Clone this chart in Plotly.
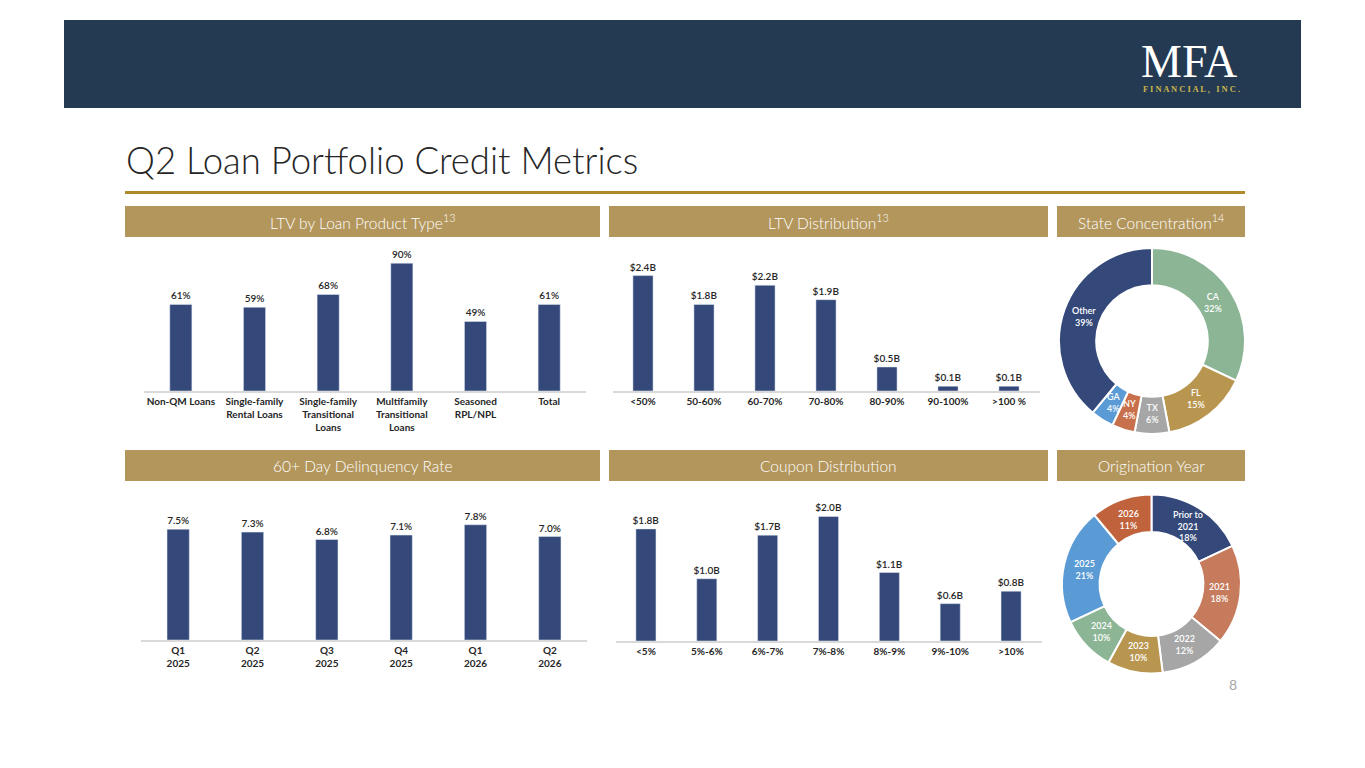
"""Q2 loan portfolio credit metrics slide, rebuilt in Plotly."""
import math

import plotly.graph_objects as go

W, H = 1365, 768

# --- data -------------------------------------------------------------------
product_types = ["Non-QM Loans", "Single-family<br>Rental Loans", "Single-family<br>Transitional<br>Loans",
                 "Multifamily<br>Transitional<br>Loans", "Seasoned<br>RPL/NPL", "Total"]
product_ltv = [61, 59, 68, 90, 49, 61]

ltv_buckets = ["<50%", "50-60%", "60-70%", "70-80%", "80-90%", "90-100%", ">100 %"]
ltv_upb = [2.4, 1.8, 2.2, 1.9, 0.5, 0.1, 0.1]

quarters = ["Q1<br>2025", "Q2<br>2025", "Q3<br>2025", "Q4<br>2025", "Q1<br>2026", "Q2<br>2026"]
dq_rate = [7.5, 7.3, 6.8, 7.1, 7.8, 7.0]

coupon_buckets = ["<5%", "5%-6%", "6%-7%", "7%-8%", "8%-9%", "9%-10%", ">10%"]
coupon_upb = [1.8, 1.0, 1.7, 2.0, 1.1, 0.6, 0.8]

states = ["CA", "FL", "TX", "NY", "GA", "Other"]
state_pct = [32, 15, 6, 4, 4, 39]

vintages = ["Prior to<br>2021", "2021", "2022", "2023", "2024", "2025", "2026"]
vintage_pct = [18, 18, 12, 10, 10, 21, 11]

# --- theme --------------------------------------------------------------------
NAVY = "#34497a"
HEADER = "#243a52"
GOLD = "#b3965c"
RULE = "#ae8a2a"
INK = "#262626"
FONT = "Lato, Arial, sans-serif"
LIGHT = "Lato Light, Lato, Arial, sans-serif"

state_colors = ["#8bb595", "#b8964f", "#a6a6a6", "#c8704c", "#5b9bd5", NAVY]
vintage_colors = [NAVY, "#c67b5c", "#a6a6a6", "#b8964f", "#8bb595", "#5b9bd5", "#c0623c"]


def px(x):
    return x / W


def py(y):
    return 1 - y / H


paper = dict(xref="paper", yref="paper")
annotations = []
fig = go.Figure()


def add_bars(n, cats, vals, fmt, width, x0, x1, top, base, yrange):
    fig.add_trace(go.Bar(
        x=cats, y=vals, width=width, marker_color=NAVY,
        texttemplate=fmt, textposition="outside", cliponaxis=False, constraintext="none",
        textfont=dict(family=FONT, size=10, color=INK, weight=600),
        xaxis=f"x{n}", yaxis=f"y{n}", showlegend=False, hoverinfo="skip",
    ))
    sfx = "" if n == 1 else str(n)
    fig.update_layout({
        f"xaxis{sfx}": dict(domain=[px(x0), px(x1)], anchor=f"y{n}", showline=True,
                            linecolor="#d9d9d9", linewidth=1.5, showgrid=False, ticks="",
                            tickfont=dict(family=FONT, size=10, color=INK, weight="bold"),
                            fixedrange=True),
        f"yaxis{sfx}": dict(domain=[py(base), py(top)], anchor=f"x{n}", range=yrange,
                            visible=False, showgrid=False, fixedrange=True),
    })


add_bars(1, product_types, product_ltv, "%{y}%", 0.3, 144, 586, 249, 391, [0, 100])
add_bars(2, ltv_buckets, ltv_upb, "$%{y:.1f}B", 0.33, 612.5, 1039.5, 266, 391, [0, 2.6])
add_bars(3, quarters, dq_rate, "%{y:.1f}%", 0.3, 141, 587, 507, 640, [0, 9])
add_bars(4, coupon_buckets, coupon_upb, "$%{y:.1f}B", 0.33, 615.5, 1041.5, 504, 641, [0, 2.2])


def add_donut(labels, vals, colors, cx, cy, r, hole):
    fig.add_trace(go.Pie(
        labels=labels, values=vals, sort=False, direction="clockwise", hole=hole,
        marker=dict(colors=colors, line=dict(color="white", width=2)), textinfo="none",
        domain=dict(x=[px(cx - r), px(cx + r)], y=[py(cy + r), py(cy - r)]),
        showlegend=False, hoverinfo="skip",
    ))
    # slice labels at full size, centred in the ring (pie would shrink the small ones)
    total = sum(vals)
    rm = r * (1 + hole) / 2 - 2
    cum = 0
    for lab, v in zip(labels, vals):
        a = 2 * math.pi * (cum + v / 2) / total
        cum += v
        annotations.append(dict(x=px(cx + rm * math.sin(a)), y=py(cy - rm * math.cos(a)),
                                text=f"{lab}<br>{v}%", showarrow=False, xanchor="center",
                                yanchor="middle", align="center",
                                font=dict(family=FONT, size=9, color="white", weight=600), **paper))


add_donut(states, state_pct, state_colors, 1152, 341, 93, 0.6)
add_donut(vintages, vintage_pct, vintage_colors, 1151.5, 584, 89.5, 0.58)

# --- slide furniture ------------------------------------------------------------
shapes = [
    dict(type="rect", x0=px(64), x1=px(1301), y0=py(108), y1=py(20), fillcolor=HEADER, line_width=0, **paper),
    dict(type="rect", x0=px(125), x1=px(1245), y0=py(194), y1=py(191), fillcolor=RULE, line_width=0, **paper),
]
panels = [
    (125, 600, 206, 237, "LTV by Loan Product Type<sup>13</sup>"),
    (609, 1048, 206, 237, "LTV Distribution<sup>13</sup>"),
    (1057, 1245, 206, 237, "State Concentration<sup>14</sup>"),
    (125, 600, 450, 481, "60+ Day Delinquency Rate"),
    (609, 1048, 450, 481, "Coupon Distribution"),
    (1057, 1245, 450, 481, "Origination Year"),
]
for x0, x1, y0, y1, label in panels:
    shapes.append(dict(type="rect", x0=px(x0), x1=px(x1), y0=py(y1), y1=py(y0),
                       fillcolor=GOLD, line_width=0, **paper))
    annotations.append(dict(x=px((x0 + x1) / 2), y=py((y0 + y1) / 2), text=label, showarrow=False,
                            xanchor="center", yanchor="middle",
                            font=dict(family=LIGHT, size=15.5, color="white", weight=300), **paper))

annotations += [
    dict(x=px(124), y=py(160), text="Q2 Loan Portfolio Credit Metrics", showarrow=False,
         xanchor="left", yanchor="middle", font=dict(family=LIGHT, size=36.5, color=INK, weight=300), **paper),
    dict(x=px(1189), y=py(62), text="MFA", showarrow=False, xanchor="center", yanchor="middle",
         font=dict(family="Liberation Serif, serif", size=46, color="white"), **paper),
    dict(x=px(1191), y=py(89), text="F I N A N C I A L ,   I N C .", showarrow=False,
         xanchor="center", yanchor="middle",
         font=dict(family="Liberation Serif, serif", size=8.5, color="#c9b64d", weight="bold"), **paper),
    dict(x=px(1233), y=py(684), text="8", showarrow=False, xanchor="center", yanchor="middle",
         font=dict(family=FONT, size=14, color="#a6a6a6"), **paper),
]

fig.update_layout(
    width=W, height=H, margin=dict(l=0, r=0, t=0, b=0),
    paper_bgcolor="white", plot_bgcolor="white",
    font=dict(family=FONT, color=INK),
    shapes=shapes, annotations=annotations,
)

fig.write_html("out.html", config={"displayModeBar": False},
               post_script="document.body.style.margin='0';")
